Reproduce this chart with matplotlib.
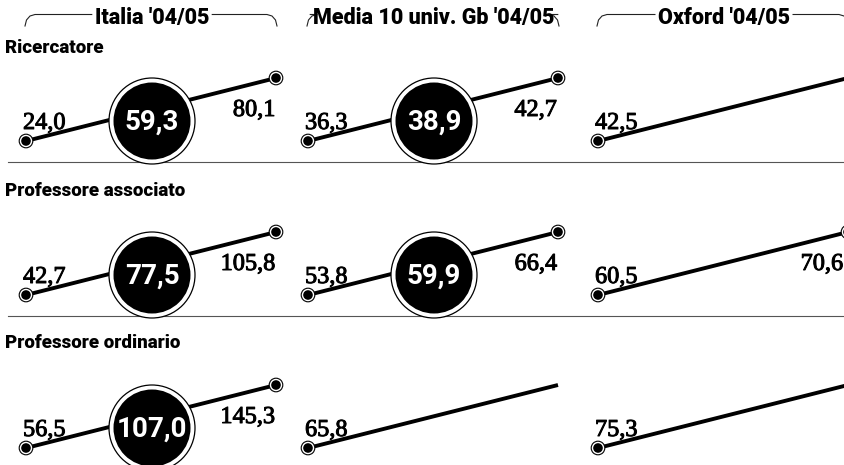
import matplotlib
matplotlib.use('Agg')
import matplotlib.pyplot as plt
from matplotlib.patches import Circle
import matplotlib.patheffects as pe

# ---- data ----
columns = ["Italia '04/05", "Media 10 univ. Gb '04/05", "Oxford '04/05"]
roles = ["Ricercatore", "Professore associato", "Professore ordinario"]
# minimum / average / maximum per role (rows) and group (columns); None = not shown
min_vals = [[24.0, 36.3, 42.5], [42.7, 53.8, 60.5], [56.5, 65.8, 75.3]]
avg_vals = [[59.3, 38.9, None], [77.5, 59.9, None], [107.0, None, None]]
max_vals = [[80.1, 42.7, None], [105.8, 66.4, 70.6], [145.3, None, None]]


def fmt(v):
    return f"{v:.1f}".replace('.', ',')


# ---- layout ----
W, H = 845, 465
fig = plt.figure(figsize=(W / 100, H / 100), dpi=100)
ax = fig.add_axes([0, 0, 1, 1])
ax.set_xlim(0, W)
ax.set_ylim(H, 0)
ax.axis('off')

col_x0 = [26, 308, 598]
span = 250
rise = 63
row_y0 = [141, 295, 448]
label_base = [53, 196, 348]
sep_y = [162, 316]

SERIF = ['Liberation Serif', 'DejaVu Serif']
SANS = ['Roboto', 'DejaVu Sans']
heavy = [pe.withStroke(linewidth=0.7, foreground='black')]


def dot(x, y):
    ax.add_patch(Circle((x, y), 6.8, facecolor='white', edgecolor='black', lw=0.8, zorder=4))
    ax.add_patch(Circle((x, y), 4.8, facecolor='black', edgecolor='none', zorder=5))


for r, role in enumerate(roles):
    ax.text(5, label_base[r], role, family=SANS, fontweight='heavy', fontsize=13.5,
            ha='left', va='baseline', color='black')
    for c in range(len(columns)):
        x0, y0 = col_x0[c], row_y0[r]
        x1, y1 = x0 + span, y0 - rise
        ax.plot([x0, x1], [y0, y1], color='black', lw=2.8, solid_capstyle='butt', zorder=2)
        dot(x0, y0)
        ax.text(x0 - 3, y0 - 12, fmt(min_vals[r][c]), family=SERIF, fontsize=17.5,
                ha='left', va='baseline', color='black', zorder=6, path_effects=heavy)
        if max_vals[r][c] is not None:
            dot(x1, y1)
            ax.text(min(x1 - 1, W - 2), y1 + 38, fmt(max_vals[r][c]), family=SERIF, fontsize=17.5,
                    ha='right', va='baseline', color='black', zorder=6, path_effects=heavy)
        if avg_vals[r][c] is not None:
            cx, cy = x0 + 126, y0 - 20
            ax.add_patch(Circle((cx, cy), 43, facecolor='white', edgecolor='black', lw=0.9, zorder=7))
            ax.add_patch(Circle((cx, cy), 38.5, facecolor='black', edgecolor='none', zorder=8))
            ax.text(cx, cy + 1, fmt(avg_vals[r][c]), family=SANS, fontweight='bold', fontsize=20,
                    ha='center', va='center', color='white', zorder=9)

for y in sep_y:
    ax.plot([8, W], [y, y], color='#555555', lw=0.8, zorder=1)

# column headers with bracket lines
head_y = 18
texts = []
for c, name in enumerate(columns):
    t = ax.text(col_x0[c] + 126, head_y, name, family=SANS, fontweight='heavy', fontsize=15.5,
                ha='center', va='center', color='black')
    texts.append(t)

fig.canvas.draw()
inv = ax.transData.inverted()
for c, t in enumerate(texts):
    bb = t.get_window_extent()
    (tl, _), (tr, _) = inv.transform([(bb.x0, bb.y0), (bb.x1, bb.y1)])
    xl, xr = col_x0[c] - 1, col_x0[c] + span + 1
    ly = 14.5
    ax.plot([xl, xl + 1.5, xl + 5, xl + 10, tl - 3], [26, 20, 16, ly, ly],
            color='#222222', lw=0.8)
    ax.plot([tr + 3, xr - 10, xr - 5, xr - 1.5, xr], [ly, ly, 16, 20, 26],
            color='#222222', lw=0.8)

fig.savefig('out.png', dpi=100, facecolor='white')
